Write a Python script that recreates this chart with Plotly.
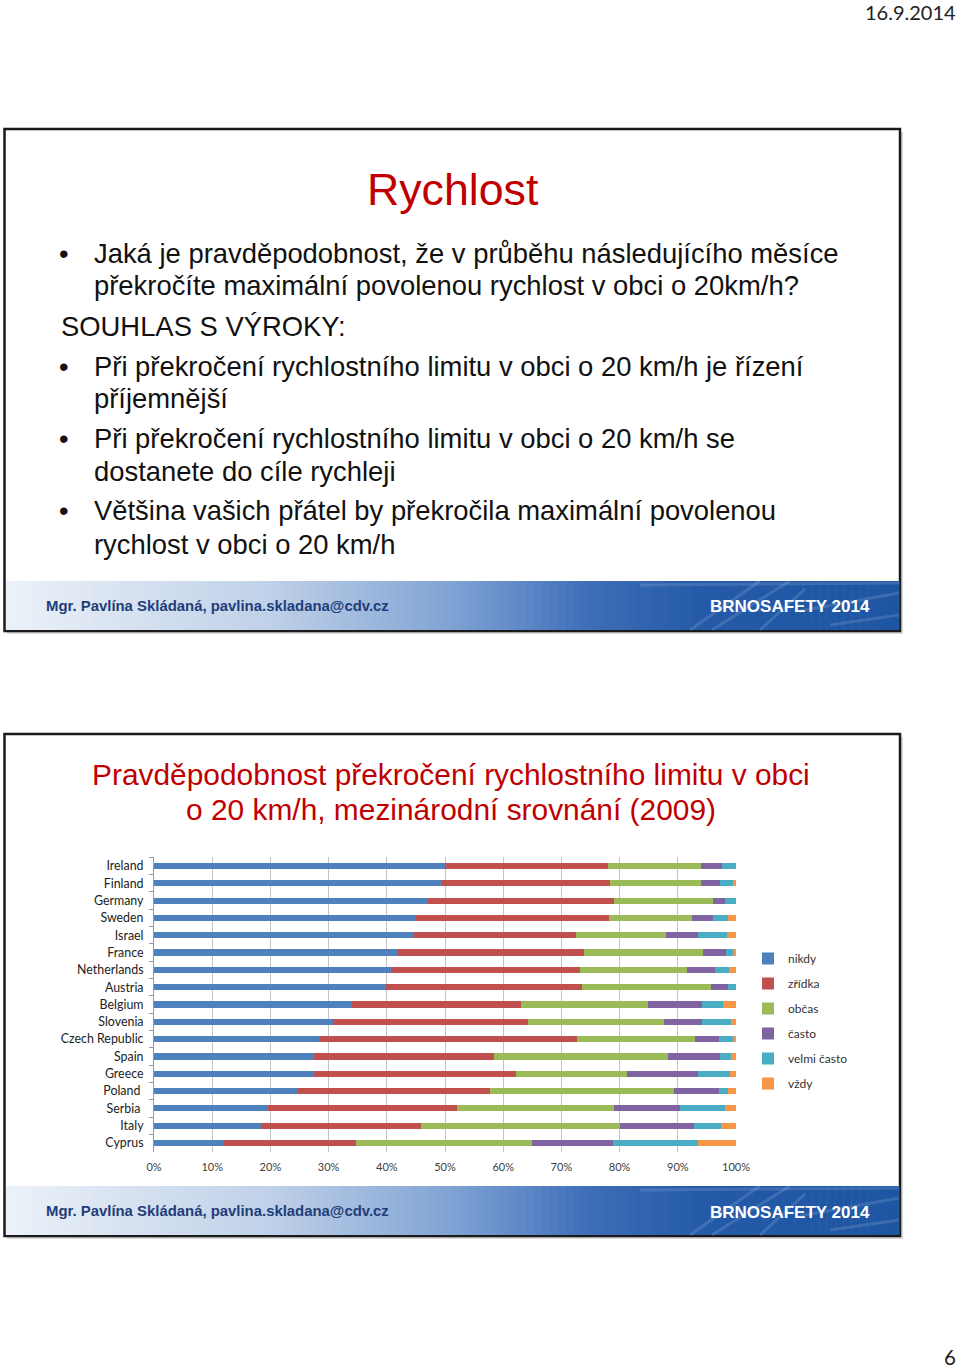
import plotly.graph_objects as go

W, H = 960, 1368


def X(p):
    return p / W


def Y(p):
    return 1 - p / H


# ---------------- data ----------------
countries = ["Ireland", "Finland", "Germany", "Sweden", "Israel", "France",
             "Netherlands", "Austria", "Belgium", "Slovenia", "Czech Republic",
             "Spain", "Greece", "Poland ", "Serbia ", "Italy", "Cyprus"]
nikdy = [50.0, 49.4, 47.1, 45.0, 44.6, 41.9, 40.7, 39.8, 34.1, 30.8, 28.4, 27.5, 27.5, 24.7, 19.6, 18.4, 11.9]
zridka = [28.0, 29.0, 31.9, 33.2, 27.9, 31.9, 32.5, 33.8, 28.9, 33.4, 44.3, 30.9, 34.7, 33.1, 32.4, 27.5, 22.8]
obcas = [15.9, 15.6, 17.1, 14.3, 15.4, 20.5, 18.3, 22.1, 21.9, 23.4, 20.3, 29.9, 19.0, 31.5, 27.0, 34.1, 30.3]
casto = [3.7, 3.2, 2.0, 3.6, 5.5, 3.9, 4.9, 2.9, 9.2, 6.6, 4.0, 9.0, 12.3, 7.8, 11.4, 12.7, 13.8]
velmi = [2.4, 2.3, 1.9, 2.6, 5.1, 1.3, 2.4, 1.4, 3.7, 4.9, 2.5, 1.8, 5.5, 1.6, 7.7, 4.8, 14.7]
vzdy = [0.0, 0.5, 0.0, 1.3, 1.5, 0.5, 1.2, 0.0, 2.2, 0.9, 0.5, 0.9, 1.0, 1.3, 1.9, 2.5, 6.5]

series_names = ["nikdy", "zřídka", "občas", "často", "velmi často", "vždy"]
series_values = [nikdy, zridka, obcas, casto, velmi, vzdy]
series_colors = ["#4F81BD", "#C0504D", "#9BBB59", "#8064A2", "#4BACC6", "#F79646"]

x_ticks = [0, 10, 20, 30, 40, 50, 60, 70, 80, 90, 100]
x_tick_labels = [f"{t}%" for t in x_ticks]

RED = "#c00000"
TXT = "#111111"

fig = go.Figure()

for name, vals, col in zip(series_names, series_values, series_colors):
    fig.add_trace(go.Bar(
        y=countries, x=vals, name=name, orientation="h",
        marker=dict(color=col, line=dict(width=0)),
        width=0.36, legendgroup=name, hoverinfo="skip",
    ))

# ---------------- shapes ----------------
shapes = []


def rect(x0, y0, x1, y1, **kw):
    d = dict(type="rect", xref="paper", yref="paper",
             x0=X(x0), x1=X(x1), y0=Y(y1), y1=Y(y0))
    d.update(kw)
    return d


# slide frames (shadow + frame)
for top, bot in [(129, 631), (734, 1236)]:
    shapes.append(rect(7, top + 3, 903, bot + 3, fillcolor="#d9d9d9",
                       line=dict(width=0), layer="below"))
    shapes.append(rect(4.5, top, 900, bot, fillcolor="white",
                       line=dict(width=2.5, color="#1a1a1a"), layer="below"))


def lerp(c1, c2, t):
    return tuple(int(round(a + (b - a) * t)) for a, b in zip(c1, c2))


stops = [(0.0, (236, 241, 248)), (0.30, (190, 208, 232)), (0.50, (128, 163, 212)),
         (0.65, (62, 110, 185)), (0.78, (36, 90, 168)), (1.0, (30, 86, 164))]


def grad(t):
    for (t0, c0), (t1, c1) in zip(stops[:-1], stops[1:]):
        if t <= t1:
            return lerp(c0, c1, (t - t0) / (t1 - t0))
    return stops[-1][1]


def footer(top, bot):
    n = 112
    x0, x1 = 6, 899
    step = (x1 - x0) / n
    for i in range(n):
        c = grad((i + 0.5) / n)
        shapes.append(rect(x0 + i * step, top, x0 + (i + 1) * step + 0.6, bot,
                           fillcolor="rgb(%d,%d,%d)" % c, line=dict(width=0)))
    # faint road lines decoration
    for (a, b, c, d) in [(690, bot, 760, top), (712, bot, 790, top),
                         (760, bot, 805, top + 8), (800, top + 30, 899, top + 12),
                         (830, bot - 5, 899, bot - 15), (640, top + 4, 899, top + 2)]:
        shapes.append(dict(type="line", xref="paper", yref="paper",
                           x0=X(a), y0=Y(b), x1=X(c), y1=Y(d),
                           line=dict(color="rgba(255,255,255,0.13)", width=3)))


footer(581, 630)
footer(1186, 1235)

# ---------------- annotations ----------------
ann = []


def text(x, y, s, size, color=TXT, family="Liberation Sans, Arial", xanchor="left",
         bold=False):
    if bold:
        s = "<b>" + s + "</b>"
    ann.append(dict(xref="paper", yref="paper", x=X(x), y=Y(y), text=s,
                    showarrow=False, xanchor=xanchor, yanchor="middle",
                    font=dict(size=size, color=color, family=family)))


text(958, 11.5, "16.9.2014", 20, color="#222", family="Lato, Calibri", xanchor="right")
text(958, 1357, "6", 20.5, color="#222", family="Lato, Calibri", xanchor="right")

text(453, 190, "Rychlost", 44.7, color=RED, xanchor="center")

bullet_lines = [
    (254, "•", "Jaká je pravděpodobnost, že v průběhu následujícího měsíce"),
    (286, None, "překročíte maximální povolenou rychlost v obci o 20km/h?"),
    (366, "•", "Při překročení rychlostního limitu v obci o 20 km/h je řízení"),
    (398, None, "příjemnější"),
    (438, "•", "Při překročení rychlostního limitu v obci o 20 km/h se"),
    (471, None, "dostanete do cíle rychleji"),
    (511, "•", "Většina vašich přátel by překročila maximální povolenou"),
    (544, None, "rychlost v obci o 20 km/h"),
]
for y, b, s in bullet_lines:
    if b:
        text(57, y, b, 27.4)
    text(92, y, s, 27.4)
text(59, 326, "SOUHLAS S VÝROKY:", 27.4)

for y in (606, 1211):
    text(44, y, "Mgr. Pavlína Skládaná, pavlina.skladana@cdv.cz", 14.9,
         color="#1f3e78", family="Liberation Sans Narrow, Arial Narrow, Liberation Sans",
         bold=True)
    text(790, y + 1, "BRNOSAFETY 2014", 17, color="white", xanchor="center", bold=True)

text(451, 774, "Pravděpodobnost překročení rychlostního limitu v obci", 29.9, color=RED,
     xanchor="center")
text(451, 809, "o 20 km/h, mezinárodní srovnání (2009)", 29.9, color=RED, xanchor="center")

# ---------------- layout ----------------
ROW = 17.3
top_px = 866 - ROW / 2
bot_px = 1143 + ROW / 2

fig.update_layout(
    width=W, height=H, autosize=False,
    margin=dict(l=0, r=0, t=0, b=0, pad=0, autoexpand=False),
    paper_bgcolor="white", plot_bgcolor="rgba(0,0,0,0)",
    barmode="stack", bargap=0.6,
    shapes=shapes, annotations=ann,
    xaxis=dict(domain=[X(154), X(736)], range=[0, 100], tickvals=x_ticks,
               ticktext=x_tick_labels, showgrid=True, gridcolor="#c4c4c4",
               gridwidth=1, zeroline=False, showline=False, ticks="",
               ticklabelstandoff=7, automargin=False,
               tickfont=dict(family="Lato, Calibri", size=11, color="#404040"),
               fixedrange=True),
    yaxis=dict(domain=[Y(bot_px), Y(top_px)], categoryorder="array",
               categoryarray=countries, range=[len(countries) - 0.5, -0.5],
               showline=True, linecolor="#9a9a9a", linewidth=1,
               ticks="outside", ticklen=4, tickcolor="#9a9a9a",
               tickson="boundaries", showgrid=False, ticklabelstandoff=7,
               automargin=False,
               tickfont=dict(family="Lato, Calibri", size=12.4, color="#222"),
               fixedrange=True),
    legend=dict(x=X(748), y=Y(944), xanchor="left", yanchor="top",
                traceorder="grouped", tracegroupgap=6, itemwidth=30,
                bgcolor="rgba(0,0,0,0)",
                font=dict(family="Lato, Calibri", size=12, color="#333")),
    showlegend=True,
)

fig.write_html(
    "out.html",
    config={"responsive": False, "displayModeBar": False},
    post_script="document.body.style.margin='0';document.body.style.overflow='hidden';",
)
